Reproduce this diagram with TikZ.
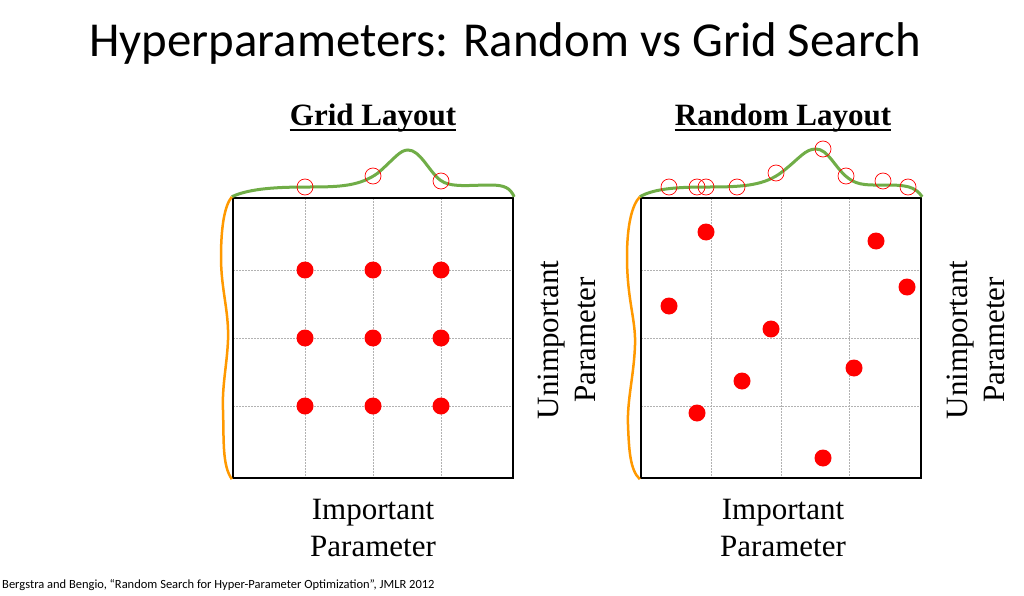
\documentclass[tikz,border=0pt]{standalone}
\usepackage{fontspec}
\setmainfont{Liberation Serif}
\newfontfamily\calib{Carlito}
\begin{document}
\begin{tikzpicture}[x=1pt,y=-1pt,
  boxline/.style={line width=2.4pt,black},
  gridline/.style={gray!60,line width=1pt,dash pattern=on 1.5pt off 1.5pt},
  dot/.style={circle,fill=red,inner sep=0pt,minimum size=17pt},
  hollow/.style={circle,draw=red,inner sep=0pt,minimum size=16pt,line width=0.7pt},
  greencurve/.style={draw={rgb,255:red,112;green,173;blue,71},line width=3pt},
  orangecurve/.style={draw={rgb,255:red,255;green,153;blue,0},line width=2.5pt},
  heading/.style={font=\fontsize{31}{36}\selectfont\bfseries,inner sep=0pt},
  uline/.style={line width=2pt},
  axislabel/.style={font=\fontsize{31}{37}\selectfont,align=center}
]
\useasboundingbox[fill=white] (0,0) rectangle (1024,596);

% title
\node[font=\calib\fontsize{48.8}{58}\selectfont] (title) at (505,43) {Hyperparameters: Random vs Grid Search};

% ===== Grid layout =====
\node[heading] (gh) at (373,118) {Grid Layout};
\draw[uline] ([yshift=-5pt]gh.base west) -- ([yshift=-5pt]gh.base east);
\draw[gridline] (305,198) -- (305,478) (373,198) -- (373,478) (441,198) -- (441,478);
\draw[gridline] (233,270) -- (513,270) (233,338) -- (513,338) (233,406) -- (513,406);
\node[draw,boxline,minimum width=280pt,minimum height=280pt,inner sep=0pt] (gbox) at (373,338) {};
\draw[greencurve] (gbox.north west) .. controls (250,188) and (280,187) .. (310,187)
  .. controls (340,187) and (360,186) .. (378,173)
  .. controls (395,158) and (400,150) .. (408,150)
  .. controls (420,150) and (428,170) .. (440,180)
  .. controls (450,188) and (470,185) .. (490,185)
  .. controls (505,185) and (510,188) .. (gbox.north east);
\draw[orangecurve] (gbox.north west) .. controls (225,205) and (221,225) .. (221,257)
  .. controls (221,290) and (229,310) .. (228,340)
  .. controls (227,365) and (222,385) .. (223,410)
  .. controls (224,440) and (222,465) .. (gbox.south west);
\foreach \i/\x in {1/305,2/373,3/441}{
  \foreach \j/\y in {1/270,2/338,3/406}{
    \node[dot] (g\i\j) at (\x,\y) {};
  }
}
\node[hollow] (gh1) at (305,187) {};
\node[hollow] (gh2) at (373,176) {};
\node[hollow] (gh3) at (441,181) {};
\node[axislabel] (gx) at (373,528) {Important\\Parameter};
\node[axislabel,rotate=90] (gy) at (567,340) {Unimportant\\Parameter};

% ===== Random layout =====
\node[heading] (rh) at (783,118) {Random Layout};
\draw[uline] ([yshift=-5pt]rh.base west) -- ([yshift=-5pt]rh.base east);
\draw[gridline] (711,198) -- (711,478) (781,198) -- (781,478) (849,198) -- (849,478);
\draw[gridline] (641,270) -- (921,270) (641,338) -- (921,338) (641,406) -- (921,406);
\node[draw,boxline,minimum width=280pt,minimum height=280pt,inner sep=0pt] (rbox) at (781,338) {};
\draw[greencurve] (rbox.north west) .. controls (655,188) and (680,187) .. (710,187)
  .. controls (745,187) and (765,185) .. (782,172)
  .. controls (800,158) and (805,149) .. (816,149)
  .. controls (828,149) and (835,168) .. (848,178)
  .. controls (858,186) and (870,185) .. (885,185)
  .. controls (905,185) and (915,186) .. (rbox.north east);
\draw[orangecurve] (rbox.north west) .. controls (632,205) and (627,225) .. (627,257)
  .. controls (627,300) and (636,320) .. (635,345)
  .. controls (634,375) and (627,400) .. (628,425)
  .. controls (629,450) and (630,470) .. (rbox.south west);
\node[dot] (r1) at (706,232) {};
\node[dot] (r2) at (669,306) {};
\node[dot] (r3) at (697,413) {};
\node[dot] (r4) at (771,329) {};
\node[dot] (r5) at (742,381) {};
\node[dot] (r6) at (823,458) {};
\node[dot] (r7) at (854,368) {};
\node[dot] (r8) at (876,241) {};
\node[dot] (r9) at (907,287) {};
\node[hollow] (rh1) at (669,187) {};
\node[hollow] (rh2) at (697,187) {};
\node[hollow] (rh3) at (706,187) {};
\node[hollow] (rh4) at (737,187) {};
\node[hollow] (rh5) at (776,173) {};
\node[hollow] (rh6) at (823,149) {};
\node[hollow] (rh7) at (846,176) {};
\node[hollow] (rh8) at (883,181) {};
\node[hollow] (rh9) at (908,187) {};
\node[axislabel] (rx) at (783,528) {Important\\Parameter};
\node[axislabel,rotate=90] (ry) at (976,340) {Unimportant\\Parameter};

% citation
\node[font=\calib\fontsize{12.5}{15}\selectfont,anchor=west,inner sep=0pt] (cite) at (2,585) {Bergstra and Bengio, “Random Search for Hyper-Parameter Optimization”, JMLR 2012};
\end{tikzpicture}
\end{document}
